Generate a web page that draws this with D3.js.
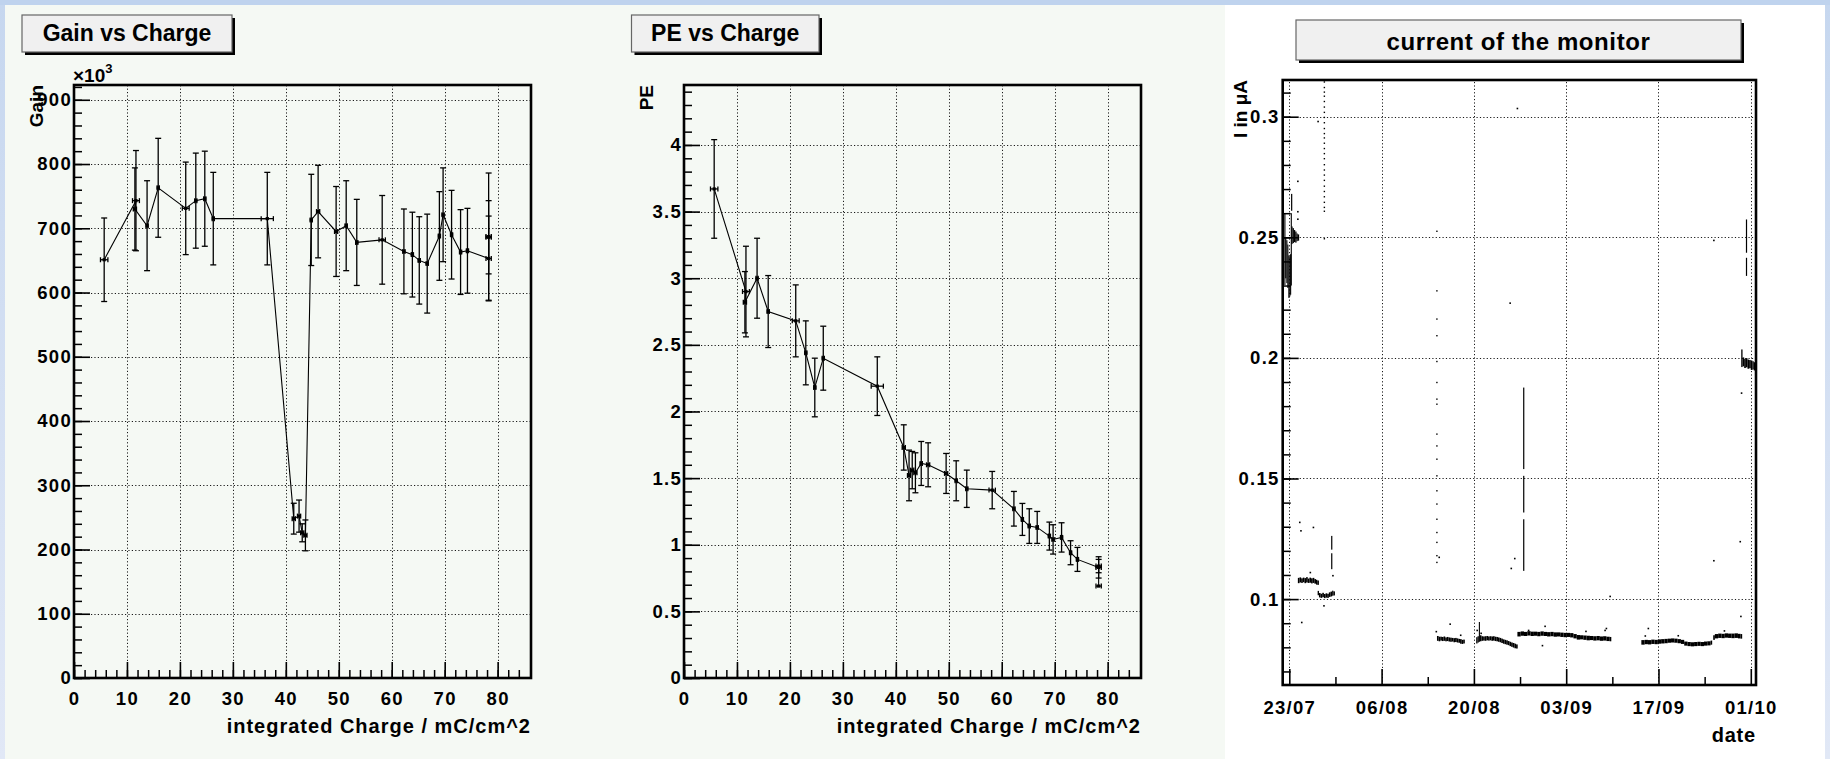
<!DOCTYPE html>
<html>
<head>
<meta charset="utf-8">
<script src="https://cdn.jsdelivr.net/npm/d3@7"></script>
<style>
  html, body { margin: 0; padding: 0; background: #f5f9f4; }
  svg { display: block; }
  text { font-family: "Liberation Sans", Arial, Helvetica, sans-serif; font-weight: bold; fill: #000; }
</style>
</head>
<body>
<svg id="canvas" width="1830" height="759"></svg>
<script>
// ---------------------------------------------------------------------------
// Gain / PE measurements versus integrated charge (mC/cm^2)
// ---------------------------------------------------------------------------
const charge    = [5.7, 11.7, 11.5, 13.8, 15.9, 21.1, 23.0, 24.7, 26.3, 36.5, 41.5, 42.5, 43.1, 43.7,
                   44.8, 46.1, 49.5, 51.4, 53.4, 58.2, 62.3, 63.9, 65.2, 66.7, 69.0, 69.7, 71.3, 73.0,
                   74.3, 78.3, 78.3, 78.3];
const chargeErr = [0.7, 0.65, 0.3, 0.2, 0.2, 0.65, 0.2, 0.2, 0.2, 1.15, 0.3, 0.3, 0.3, 0.3,
                   0.2, 0.3, 0.3, 0.2, 0.2, 0.6, 0.2, 0.2, 0.2, 0.2, 0.2, 0.2, 0.2, 0.2,
                   0.2, 0.5, 0.5, 0.5];
const gain      = [651, 743, 730, 704, 763, 731, 743, 746, 715, 715, 248, 252, 226, 222,
                   713, 726, 695, 704, 678, 682, 664, 659, 650, 645, 688, 721, 690, 663,
                   665, 653, 687, 686];
const gainErr   = [65, 78, 64, 70, 77, 72, 74, 74, 72, 72, 24, 25, 14, 24,
                   71, 72, 70, 70, 67, 69, 66, 66, 68, 77, 69, 73, 69, 66,
                   66, 66, 99, 57];
const pe        = [3.67, 2.90, 2.82, 3.00, 2.75, 2.68, 2.44, 2.18, 2.40, 2.19, 1.73, 1.52, 1.56, 1.54,
                   1.61, 1.60, 1.535, 1.48, 1.42, 1.41, 1.27, 1.19, 1.14, 1.13, 1.065, 1.04, 1.055, 0.94,
                   0.89, 0.83, 0.84, 0.69];
const peErr     = [0.37, 0.34, 0.23, 0.30, 0.27, 0.27, 0.24, 0.22, 0.24, 0.22, 0.17, 0.19, 0.14, 0.15,
                   0.165, 0.165, 0.15, 0.15, 0.14, 0.14, 0.13, 0.12, 0.13, 0.12, 0.105, 0.11, 0.11, 0.09,
                   0.09, 0.08, 0.05, 0];

const chargeTicks = [0, 10, 20, 30, 40, 50, 60, 70, 80];
const gainTicks   = [0, 100, 200, 300, 400, 500, 600, 700, 800, 900];   // x10^3
const peTicks     = [0, 0.5, 1, 1.5, 2, 2.5, 3, 3.5, 4];

// ---------------------------------------------------------------------------
// Monitor current (uA); times are days after the record origin
// ---------------------------------------------------------------------------
const monitorOrigin = "2006-07-23";
const dateTicks    = ["2006-07-23", "2006-08-06", "2006-08-20", "2006-09-03", "2006-09-17", "2006-10-01"];
const currentTicks = [0.1, 0.15, 0.2, 0.25, 0.3];

// continuous running periods: [day, low, high]
const bandJul23 = [[-0.75,.2302,.2600],[-0.62,.2330,.2500],[-0.45,.2310,.2488],[-0.30,.2290,.2470],
                   [-0.15,.2249,.2425],[0.00,.2255,.2418],[0.12,.2262,.2430],[0.22,.2300,.2600],
                   [0.32,.2472,.2545],[0.50,.2476,.2538],[0.70,.2480,.2530],[0.90,.2478,.2524],
                   [1.10,.2484,.2516],[1.25,.2486,.2512]];
const bandJul24 = [[1.30,.1066,.1088],[1.55,.1069,.1090],[1.80,.1067,.1086],[2.05,.1070,.1089],
                   [2.30,.1066,.1087],[2.55,.1069,.1091],[2.80,.1067,.1085],[3.05,.1068,.1089],
                   [3.30,.1065,.1086],[3.55,.1067,.1088],[3.80,.1064,.1083],[4.05,.1060,.1080],
                   [4.25,.1059,.1077]];
const bandJul27 = [[4.30,.1016,.1034],[4.50,.1007,.1025],[4.75,.1005,.1022],[5.00,.1008,.1026],
                   [5.25,.1004,.1021],[5.50,.1006,.1024],[5.75,.1005,.1022],[6.00,.1009,.1028],
                   [6.25,.1011,.1031],[6.50,.1014,.1035],[6.68,.1015,.1032]];
const bandAug14 = [[22.40,.0827,.0847],[22.65,.0825,.0844],[22.90,.0828,.0844],[23.15,.0826,.0843],
                   [23.40,.0827,.0845],[23.65,.0825,.0841],[23.90,.0826,.0843],[24.15,.0824,.0841],
                   [24.40,.0823,.0840],[24.65,.0824,.0839],[24.90,.0821,.0838],[25.15,.0822,.0839],
                   [25.40,.0820,.0837],[25.65,.0819,.0835],[25.90,.0815,.0834],[26.15,.0814,.0831],
                   [26.38,.0816,.0832]];
const bandAug20 = [[28.35,.0816,.0842],[28.55,.0820,.0846],[28.75,.0823,.0905],[28.90,.0825,.0850],
                   [29.15,.0827,.0846],[29.40,.0828,.0845],[29.65,.0827,.0846],[29.90,.0829,.0847],
                   [30.15,.0828,.0845],[30.40,.0829,.0846],[30.65,.0827,.0845],[30.90,.0828,.0846],
                   [31.15,.0826,.0844],[31.40,.0825,.0843],[31.65,.0823,.0841],[31.90,.0821,.0839],
                   [32.15,.0818,.0836],[32.40,.0815,.0833],[32.65,.0813,.0831],[32.90,.0811,.0829],
                   [33.15,.0809,.0826],[33.40,.0805,.0823],[33.65,.0802,.0820],[33.90,.0799,.0818],
                   [34.15,.0796,.0815],[34.40,.0795,.0812]];
const bandAug26 = [[34.60,.0845,.0864],[35.10,.0848,.0866],[35.60,.0847,.0864],[36.10,.0849,.0867],
                   [36.60,.0847,.0865],[37.10,.0848,.0865],[37.60,.0846,.0864],[38.10,.0848,.0866],
                   [38.60,.0847,.0864],[39.10,.0845,.0863],[39.60,.0846,.0864],[40.10,.0844,.0862],
                   [40.60,.0845,.0862],[41.10,.0843,.0861],[41.60,.0842,.0860],[42.10,.0843,.0860],
                   [42.60,.0841,.0859],[43.10,.0837,.0855],[43.60,.0832,.0851],[44.10,.0833,.0850],
                   [44.60,.0831,.0849],[45.10,.0829,.0848],[45.60,.0830,.0847],[46.10,.0828,.0846],
                   [46.60,.0829,.0847],[47.10,.0827,.0845],[47.60,.0828,.0846],[48.10,.0826,.0844],
                   [48.60,.0825,.0843]];
const bandSep15 = [[53.40,.0811,.0830],[53.90,.0813,.0831],[54.40,.0812,.0830],[54.90,.0814,.0832],
                   [55.40,.0813,.0831],[55.90,.0815,.0833],[56.40,.0816,.0834],[56.90,.0817,.0835],
                   [57.40,.0819,.0836],[57.90,.0820,.0837],[58.40,.0819,.0836],[58.90,.0817,.0834],
                   [59.40,.0814,.0831],[59.90,.0807,.0824],[60.40,.0805,.0822],[60.90,.0804,.0821],
                   [61.40,.0805,.0822],[61.90,.0806,.0823],[62.40,.0805,.0822],[62.90,.0807,.0824],
                   [63.40,.0808,.0825],[63.90,.0811,.0828]];
const bandSep26 = [[64.30,.0831,.0850],[64.55,.0837,.0855],[65.05,.0839,.0857],[65.55,.0838,.0856],
                   [66.05,.0840,.0858],[66.55,.0839,.0857],[67.05,.0838,.0857],[67.55,.0839,.0858],
                   [68.05,.0837,.0856],[68.45,.0836,.0855]];
const bandSep30 = [[68.55,.1962,.2035],[68.75,.1965,.2002],[69.00,.1958,.1996],[69.25,.1961,.1999],
                   [69.50,.1955,.1993],[69.75,.1957,.1991],[70.00,.1950,.1989],[70.25,.1952,.1986],
                   [70.45,.1948,.1982]];

// short bursts drawn as vertical traces: [day, low, high]
const monitorBursts = [[0.36,.2610,.2680],[6.44,.1124,.1190],[6.44,.1205,.1262],
                       [35.56,.1117,.1331],[35.56,.1359,.1511],[35.56,.1539,.1877],
                       [69.35,.2340,.2415],[69.35,.2436,.2574]];

// sparse readings during ramps: [day, value]
const rampJul28 = [.3144,.3121,.3102,.3085,.3063,.3040,.3018,.2997,.2975,.2951,.2930,.2912,.2890,
                   .2868,.2847,.2826,.2801,.2779,.2758,.2736,.2712,.2690,.2668,.2645,.2624,.2608,.2494];
const rampAug14 = [.2525,.2278,.2161,.2092,.1985,.1898,.1829,.1808,.1684,.1635,.1580,.1511,.1449,
                   .1394,.1331,.1276,.1235,.1180,.1152];
const rampDays  = [5.32, 22.39];

// isolated readings: [day, value]
const monitorSingles = [[1.59,.1318],[1.77,.1283],[3.66,.1297],[1.89,.0903],[3.19,.1110],[5.26,.0972],
                        [6.62,.1097],[24.4,.0896],[22.74,.1173],[33.67,.1127],[34.2,.1168],[38.8,.0887],
                        [38.4,.0807],[48.67,.1011],[48.1,.0878],[54.46,.0878],[64.4,.1159],[68.4,.1238],
                        [68.5,.0928],[68.6,.1854],[34.6,.3034],[33.5,.2227],[64.4,.2487],[1.3,.2732],
                        [1.3,.2606],[1.3,.2575],[4.37,.2980],[22.3,.0865],[26.0,.0850],[28.5,.0870],
                        [29.1,.0858],[36.3,.0870],[45.0,.0866],[47.9,.0870],[54.0,.0847],[59.0,.0848],
                        [66.0,.0868]];

// ---------------------------------------------------------------------------
const svg = d3.select("#canvas");
const FONT = '"Liberation Sans", Arial, Helvetica, sans-serif';

// canvas backgrounds and window border
const defs = svg.append("defs");
const lg = defs.append("linearGradient").attr("id", "edge").attr("x1", 0).attr("y1", 0).attr("x2", 0).attr("y2", 1);
lg.append("stop").attr("offset", "0%").attr("stop-color", "#c6d7ef");
lg.append("stop").attr("offset", "100%").attr("stop-color", "#e1e8f6");
svg.append("rect").attr("x", 0).attr("y", 0).attr("width", 1830).attr("height", 759).attr("fill", "#f5f9f4");
svg.append("rect").attr("x", 1225).attr("y", 0).attr("width", 605).attr("height", 759).attr("fill", "#ffffff");
svg.append("rect").attr("x", 0).attr("y", 0).attr("width", 5).attr("height", 759).attr("fill", "url(#edge)");
svg.append("rect").attr("x", 1825).attr("y", 0).attr("width", 5).attr("height", 759).attr("fill", "url(#edge)");
svg.append("rect").attr("x", 0).attr("y", 0).attr("width", 1830).attr("height", 5).attr("fill", "#bfd3ee");

// ---------------------------------------------------------------------------
// helpers
function titleBox(x, y, w, h, label, size, baseline, spacing) {
  const g = svg.append("g");
  g.append("rect").attr("x", x + 3).attr("y", y + 3).attr("width", w).attr("height", h).attr("fill", "#000");
  g.append("rect").attr("x", x).attr("y", y).attr("width", w).attr("height", h)
    .attr("fill", "#f0f0f0").attr("stroke", "#666").attr("stroke-width", 1.2);
  g.append("text").attr("x", x + w / 2).attr("y", baseline).attr("text-anchor", "middle")
    .attr("font-size", size).style("letter-spacing", (spacing || 0) + "px").text(label);
}

function styleAxis(sel, lineWidth) {
  sel.select(".domain").remove();
  sel.attr("font-family", FONT).attr("font-size", null);
  sel.selectAll("line").attr("stroke", "#000").attr("stroke-width", lineWidth);
  sel.selectAll("text").attr("font-size", 18.5).attr("font-weight", "bold")
    .style("letter-spacing", "1.3px").attr("fill", "#000");
}

function grid(g, xs, ys, xVals, yVals) {
  const [x0, x1] = xs.range(), [y0, y1] = ys.range();
  const gg = g.append("g").attr("stroke", "#1a1a1a").attr("stroke-width", 1).attr("stroke-dasharray", "1.2,2.2");
  gg.selectAll(".gx").data(xVals).join("line")
    .attr("x1", d => Math.round(xs(d)) + 0.5).attr("x2", d => Math.round(xs(d)) + 0.5)
    .attr("y1", y0).attr("y2", y1);
  gg.selectAll(".gy").data(yVals).join("line")
    .attr("y1", d => Math.round(ys(d)) + 0.5).attr("y2", d => Math.round(ys(d)) + 0.5)
    .attr("x1", x0).attr("x2", x1);
}

function axesFor(g, xs, ys, xMaj, xMin, yMaj, yMin, xFmt, yFmt, xPad, yPad) {
  const [x0] = xs.range(), [y0] = ys.range();
  g.append("g").attr("transform", `translate(0,${y0})`)
    .call(d3.axisBottom(xs).tickValues(xMin).tickSize(-8).tickFormat(""))
    .call(s => styleAxis(s, 1.5));
  g.append("g").attr("transform", `translate(0,${y0})`)
    .call(d3.axisBottom(xs).tickValues(xMaj).tickSize(-16).tickPadding(xPad).tickFormat(xFmt))
    .call(s => styleAxis(s, 1.6));
  g.append("g").attr("transform", `translate(${x0},0)`)
    .call(d3.axisLeft(ys).tickValues(yMin).tickSize(-8).tickFormat(""))
    .call(s => styleAxis(s, 1.5));
  g.append("g").attr("transform", `translate(${x0},0)`)
    .call(d3.axisLeft(ys).tickValues(yMaj).tickSize(-16).tickPadding(yPad).tickFormat(yFmt))
    .call(s => styleAxis(s, 1.6));
}

function frame(g, xs, ys) {
  const [x0, x1] = xs.range(), [y0, y1] = ys.range();
  g.append("rect").attr("x", x0).attr("y", y1).attr("width", x1 - x0).attr("height", y0 - y1)
    .attr("fill", "none").attr("stroke", "#000").attr("stroke-width", 2.6);
}

function errorGraph(g, xs, ys, xv, xe, yv, ye) {
  const idx = d3.range(yv.length);
  g.append("path").datum(idx)
    .attr("d", d3.line().x(i => xs(xv[i])).y(i => ys(yv[i])))
    .attr("fill", "none").attr("stroke", "#000").attr("stroke-width", 1.1);
  const eb = g.append("g").attr("stroke", "#000").attr("stroke-width", 1.3);
  idx.forEach(i => {
    const cx = xs(xv[i]), cy = ys(yv[i]);
    if (ye[i] > 0) {
      const ya = ys(yv[i] + ye[i]), yb = ys(yv[i] - ye[i]);
      eb.append("line").attr("x1", cx).attr("x2", cx).attr("y1", ya).attr("y2", yb);
      eb.append("line").attr("x1", cx - 3).attr("x2", cx + 3).attr("y1", ya).attr("y2", ya);
      eb.append("line").attr("x1", cx - 3).attr("x2", cx + 3).attr("y1", yb).attr("y2", yb);
    }
    if (xe[i] > 0) {
      const xa = xs(xv[i] - xe[i]), xb = xs(xv[i] + xe[i]);
      eb.append("line").attr("x1", xa).attr("x2", xb).attr("y1", cy).attr("y2", cy);
      eb.append("line").attr("x1", xa).attr("x2", xa).attr("y1", cy - 2.5).attr("y2", cy + 2.5);
      eb.append("line").attr("x1", xb).attr("x2", xb).attr("y1", cy - 2.5).attr("y2", cy + 2.5);
    }
  });
  g.append("g").selectAll("rect").data(idx).join("rect")
    .attr("x", i => xs(xv[i]) - 1.6).attr("y", i => ys(yv[i]) - 1.6)
    .attr("width", 3.2).attr("height", 3.2).attr("fill", "#000");
}

const chargeMinor = d3.range(0, 85.5, 2);

// ---------------------------------------------------------------------------
// Panel 1: Gain vs Charge
{
  const xs = d3.scaleLinear().domain([0, 86.3]).range([74, 531]);
  const ys = d3.scaleLinear().domain([0, 923]).range([678, 85]);
  const g = svg.append("g");
  titleBox(22, 15, 210, 37, "Gain vs Charge", 23, 40.5);
  grid(g, xs, ys, chargeTicks.filter(d => d > 0), gainTicks.filter(d => d > 0));
  axesFor(g, xs, ys, chargeTicks, chargeMinor, gainTicks, d3.range(0, 923, 20),
          d3.format("d"), d3.format("d"), 13.5, 2);
  errorGraph(g, xs, ys, charge, chargeErr, gain, gainErr);
  frame(g, xs, ys);
  const mult = g.append("text").attr("x", 73).attr("y", 81.5).attr("font-size", 19).attr("font-weight", "normal");
  mult.append("tspan").text("\u00d710");
  mult.append("tspan").attr("dy", -9).attr("font-size", 13).text("3");
  g.append("text").attr("transform", "translate(42.5,85) rotate(-90)").attr("text-anchor", "end")
    .attr("font-size", 19).text("Gain");
  g.append("text").attr("x", 531).attr("y", 733).attr("text-anchor", "end").attr("font-size", 20)
    .style("letter-spacing", "1px").text("integrated Charge / mC/cm^2");
}

// ---------------------------------------------------------------------------
// Panel 2: PE vs Charge
{
  const xs = d3.scaleLinear().domain([0, 86.3]).range([684, 1141]);
  const ys = d3.scaleLinear().domain([0, 4.45]).range([678, 85]);
  const g = svg.append("g");
  titleBox(631.5, 15, 187.5, 37, "PE vs Charge", 23, 40.5);
  grid(g, xs, ys, chargeTicks.filter(d => d > 0), peTicks.filter(d => d > 0));
  axesFor(g, xs, ys, chargeTicks, chargeMinor, peTicks, d3.range(0, 44.5).map(d => d / 10),
          d3.format("d"), d3.format("~g"), 13.5, 2);
  errorGraph(g, xs, ys, charge, chargeErr, pe, peErr);
  frame(g, xs, ys);
  g.append("text").attr("transform", "translate(652.5,85) rotate(-90)").attr("text-anchor", "end")
    .attr("font-size", 19).text("PE");
  g.append("text").attr("x", 1141).attr("y", 733).attr("text-anchor", "end").attr("font-size", 20)
    .style("letter-spacing", "1px").text("integrated Charge / mC/cm^2");
}

// ---------------------------------------------------------------------------
// Panel 3: monitor current over time
{
  const parse = d3.utcParse("%Y-%m-%d");
  const t0 = parse(monitorOrigin).getTime();
  const day = d => new Date(t0 + d * 864e5);
  const xs = d3.scaleUtc().domain([day(-1.0), day(70.79)]).range([1282.7, 1756]);
  const ys = d3.scaleLinear().domain([0.06438, 0.31522]).range([685, 80]);
  const g = svg.append("g");
  titleBox(1296, 20, 445, 40, "current of the monitor", 24, 49.5, 0.6);

  const majors = dateTicks.map(parse);
  const minors = majors.slice(0, -1).map(d => d3.utcDay.offset(d, 7));
  grid(g, xs, ys, majors, currentTicks);
  axesFor(g, xs, ys, majors, minors, currentTicks, d3.range(7, 32).map(d => d / 100),
          d3.utcFormat("%d/%m"), d3.format("~g"), 15.5, 3);

  const data = g.append("g").attr("fill", "#000");
  [bandJul23, bandJul24, bandJul27, bandAug14, bandAug20, bandAug26, bandSep15, bandSep26, bandSep30]
    .forEach(band => {
      band.forEach((s, i) => {
        const xa = xs(day(s[0]));
        const xb = i < band.length - 1 ? xs(day(band[i + 1][0])) : xa + 1.6;
        data.append("rect").attr("x", xa).attr("width", Math.max(1.1, xb - xa))
          .attr("y", ys(s[2])).attr("height", Math.max(1, ys(s[1]) - ys(s[2])));
      });
    });
  monitorBursts.forEach(b => {
    data.append("rect").attr("x", xs(day(b[0])) - 0.6).attr("width", 1.2)
      .attr("y", ys(b[2])).attr("height", ys(b[1]) - ys(b[2]));
  });
  [rampJul28, rampAug14].forEach((vals, k) => {
    vals.forEach(v => {
      data.append("rect").attr("x", xs(day(rampDays[k])) - 0.7).attr("y", ys(v) - 0.7)
        .attr("width", 1.4).attr("height", 1.4);
    });
  });
  monitorSingles.forEach(p => {
    data.append("rect").attr("x", xs(day(p[0])) - 0.8).attr("y", ys(p[1]) - 0.8)
      .attr("width", 1.6).attr("height", 1.6);
  });

  frame(g, xs, ys);
  g.append("text").attr("transform", "translate(1247,80) rotate(-90)").attr("text-anchor", "end")
    .attr("font-size", 19).text("I in \u03bcA");
  g.append("text").attr("x", 1756).attr("y", 741.5).attr("text-anchor", "end").attr("font-size", 20)
    .style("letter-spacing", "0.8px").text("date");
}
</script>
</body>
</html>
